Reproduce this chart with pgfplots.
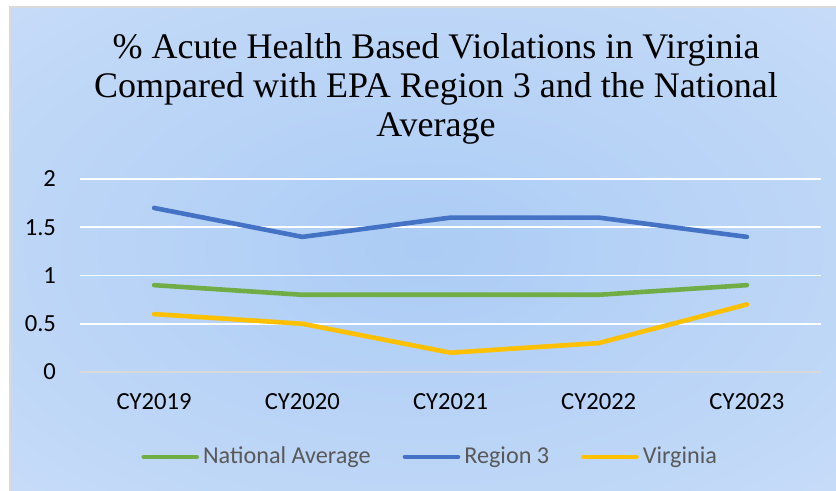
\documentclass[border=0pt]{standalone}
\usepackage{pgfplots}
\pgfplotsset{compat=1.18}
\usepackage{fontspec}
\setmainfont{Carlito}
\newfontfamily\titlefont{Liberation Serif}
\definecolor{bgin}{RGB}{172,204,245}
\definecolor{bgout}{RGB}{224,235,251}
\definecolor{cblue}{HTML}{4472C4}
\definecolor{cgreen}{HTML}{70AD47}
\definecolor{cyellow}{HTML}{FFC000}
\definecolor{legtext}{HTML}{595959}
\definecolor{zeroline}{HTML}{D9D9D9}
\pgfdeclareradialshading{chartbg}{\pgfpoint{0bp}{0bp}}{color(0bp)=(bgin); color(72bp)=(bgout)}
\begin{document}
\begin{tikzpicture}
\useasboundingbox (0,0) rectangle (418pt,245.5pt);
\fill[white] (0,0) rectangle (418pt,245.5pt);
\shade[shading=chartbg] (5pt,0) rectangle (418pt,242pt);
\draw[zeroline, line width=0.6pt] (5pt,0) -- (5pt,242pt) -- (418pt,242pt);
\node[font=\titlefont\fontsize{18}{19.3}\selectfont, align=center, text=black] at (218pt,201pt)
  {\% Acute Health Based Violations in Virginia\\Compared with EPA Region 3 and the National\\Average};
\begin{axis}[
  at={(40pt,59.5pt)}, anchor=south west,
  scale only axis, width=370.5pt, height=96.5pt,
  xmin=-0.5, xmax=4.5, ymin=0, ymax=2,
  xtick={0,1,2,3,4},
  xticklabels={CY2019,CY2020,CY2021,CY2022,CY2023},
  ytick={0,0.5,1,1.5,2},
  yticklabels={0,0.5,1,1.5,2},
  axis line style={draw=none},
  major tick length=0pt,
  ymajorgrids, grid style={white, line width=0.8pt},
  tick label style={font=\fontsize{12.3}{14}\selectfont, text=black},
  xticklabel style={yshift=-7pt},
  yticklabel style={xshift=-8.5pt},
  clip=false,
  legend columns=3,
  legend style={at={(0.474,-0.44)}, anchor=center, draw=none, fill=none,
    font=\fontsize{12.1}{14}\selectfont, text=legtext,
    /tikz/every even column/.append style={column sep=14pt}},
  legend image code/.code={\draw[#1, line cap=round] (0pt,0pt) -- (26.5pt,0pt);},
  every axis plot/.append style={line width=2.3pt, line cap=round, line join=round},
]
\draw[zeroline, line width=0.8pt] (axis cs:-0.5,0) -- (axis cs:4.5,0);
\addplot[cgreen] coordinates {(0,0.9) (1,0.8) (2,0.8) (3,0.8) (4,0.9)};
\addlegendentry{National Average}
\addplot[cblue] coordinates {(0,1.7) (1,1.4) (2,1.6) (3,1.6) (4,1.4)};
\addlegendentry{Region 3}
\addplot[cyellow] coordinates {(0,0.6) (1,0.5) (2,0.2) (3,0.3) (4,0.7)};
\addlegendentry{Virginia}
\end{axis}
\end{tikzpicture}
\end{document}
